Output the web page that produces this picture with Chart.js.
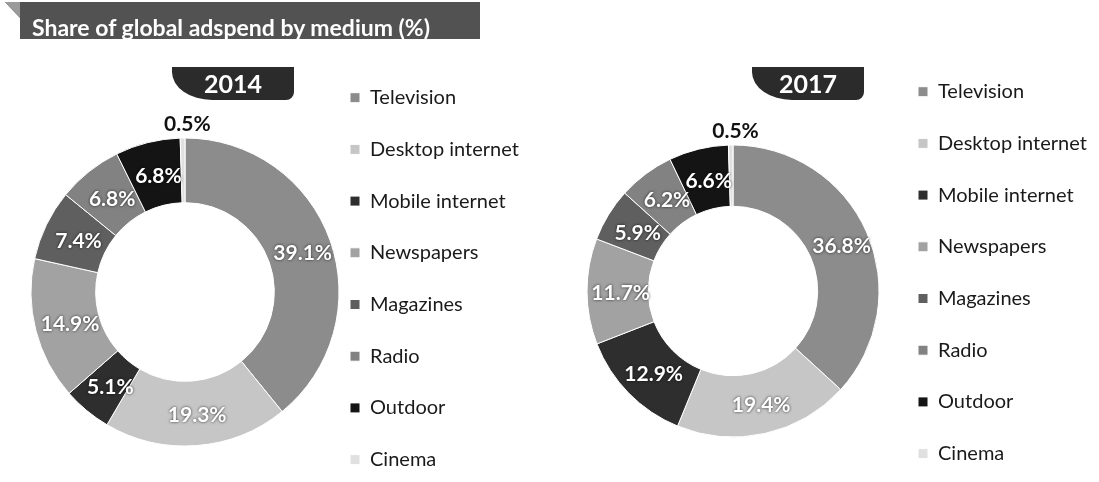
<!DOCTYPE html>
<html>
<head>
<meta charset="utf-8">
<script src="https://cdn.jsdelivr.net/npm/chart.js@4.4.1/dist/chart.umd.min.js"></script>
<style>
  html, body { margin: 0; padding: 0; background: #fff; }
  body { width: 1099px; height: 482px; overflow: hidden; position: relative; font-family: Lato, sans-serif; }
  canvas { position: absolute; top: 0; }
  .header {
    position: absolute; left: 5px; top: 2px; width: 475px; height: 37px;
    background: #525252;
    clip-path: polygon(0 0, 100% 0, 100% 100%, 15px 100%, 15px 16px);
    color: #fff; font-weight: bold; font-size: 23px;
    z-index: 2;
  }
  .fold {
    position: absolute; left: 5px; top: 2px; width: 15px; height: 16px;
    background: #9a9a9a; clip-path: polygon(0 0, 100% 0, 100% 100%);
    z-index: 3;
  }
  .header span { position: absolute; left: 27px; top: 11px; line-height: normal; white-space: nowrap; }
  .tab {
    position: absolute; top: 67px; height: 33px;
    background: #2b2b2b; color: #fff; font-weight: bold; font-size: 25px;
    text-align: center; line-height: 32px;
    border-radius: 0 0 8px 40px / 0 0 8px 28px;
    z-index: 2;
  }
</style>
</head>
<body>
<div class="header"><span>Share of global adspend by medium (%)</span></div>
<div class="fold"></div>
<div class="tab" style="left:172px;width:122px;">2014</div>
<div class="tab" style="left:752px;width:112px;">2017</div>
<canvas id="c2014" width="549" height="560" style="left:0"></canvas>
<canvas id="c2017" width="550" height="560" style="left:549px"></canvas>
<script>
// data
const mediums = ['Television', 'Desktop internet', 'Mobile internet', 'Newspapers',
                 'Magazines', 'Radio', 'Outdoor', 'Cinema'];
const share2014 = [39.1, 19.3, 5.1, 14.9, 7.4, 6.8, 6.8, 0.5];
const share2017 = [36.8, 19.4, 12.9, 11.7, 5.9, 6.2, 6.6, 0.5];
const greys = ['#8c8c8c', '#c6c6c6', '#2e2e2e', '#a2a2a2', '#5f5f5f', '#828282', '#141414', '#e0e0e0'];

Chart.defaults.font.family = 'Lato, sans-serif';
Chart.defaults.color = '#1a1a1a';

const LEG_FONT = 20;
const LEG_PAD = 31.7;

// percent labels on the ring, tiny slices go outside
const sliceLabels = {
  id: 'sliceLabels',
  afterDatasetsDraw(chart) {
    const ctx = chart.ctx;
    const meta = chart.getDatasetMeta(0);
    const vals = chart.data.datasets[0].data;
    ctx.save();
    ctx.font = 'bold 21px Lato, sans-serif';
    ctx.textAlign = 'center';
    ctx.textBaseline = 'middle';
    meta.data.forEach((arc, i) => {
      const txt = vals[i].toFixed(1) + '%';
      if (vals[i] < 2) {
        const p = arc.getProps(['x', 'y', 'startAngle', 'endAngle', 'outerRadius']);
        const a = (p.startAngle + p.endAngle) / 2;
        const r = p.outerRadius + 14;
        ctx.shadowColor = 'transparent';
        ctx.fillStyle = '#111';
        ctx.fillText(txt, p.x + Math.cos(a) * r + 5, p.y + Math.sin(a) * r);
      } else {
        const pos = arc.tooltipPosition();
        ctx.shadowColor = 'rgba(0,0,0,0.75)';
        ctx.shadowBlur = 3;
        ctx.fillStyle = '#fff';
        ctx.fillText(txt, pos.x + 3, pos.y + 2);
      }
    });
    ctx.restore();
  }
};

function makeChart(id, values, cx, radius, padTop, padBottom, legendLeft) {
  const chart = new Chart(document.getElementById(id), {
    type: 'doughnut',
    data: {
      labels: mediums,
      datasets: [{
        data: values,
        backgroundColor: greys,
        borderColor: '#fff',
        borderWidth: 1,
        radius: radius,
        cutout: '58%'
      }]
    },
    options: {
      responsive: false,
      animation: false,
      devicePixelRatio: 1,
      layout: { padding: { left: 0, right: 0, top: padTop, bottom: padBottom } },
      plugins: {
        legend: {
          position: 'right',
          align: 'start',
          labels: {
            boxWidth: 10,
            boxHeight: 10,
            padding: LEG_PAD,
            color: '#1a1a1a',
            font: { size: LEG_FONT }
          }
        },
        tooltip: { enabled: false }
      }
    },
    plugins: [sliceLabels]
  });
  // move the plot area so the ring centre and legend sit where they should
  const L0 = chart.chartArea.right;
  chart.options.layout.padding.right = L0 - legendLeft;
  chart.options.layout.padding.left = 2 * cx - legendLeft;
  chart.update();
  return chart;
}

makeChart('c2014', share2014, 185, 154, 56, 32, 350 - LEG_PAD);
makeChart('c2017', share2017, 184, 146, 50, 28, 369 - LEG_PAD);
</script>
</body>
</html>
